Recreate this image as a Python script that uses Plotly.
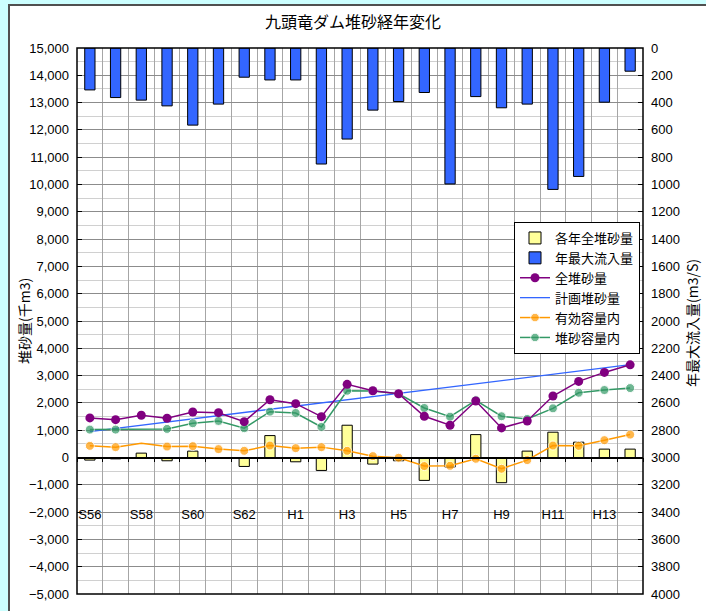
import plotly.graph_objects as go

# ---------------- data ----------------
years = ["S56", "S57", "S58", "S59", "S60", "S61", "S62", "S63",
         "H1", "H2", "H3", "H4", "H5", "H6", "H7", "H8", "H9", "H10",
         "H11", "H12", "H13", "H14"]
year_labels = ["S56", "", "S58", "", "S60", "", "S62", "",
               "H1", "", "H3", "", "H5", "", "H7", "", "H9", "",
               "H11", "", "H13", ""]

# 各年全堆砂量 (千m3)
annual_sed = [-95, -50, 160, -120, 234, -30, -328, 803,
              -157, -474, 1182, -241, -120, -839, -350, 839, -923, 234,
              927, 562, 307, 307]
# 年最大流入量 (m3/S)
max_inflow = [307, 363, 382, 424, 565, 411, 214, 234,
              234, 850, 667, 455, 392, 326, 996, 356, 438, 411,
              1036, 941, 397, 170]
# 全堆砂量 (千m3)
total_sed = [1449, 1387, 1547, 1438, 1668, 1642, 1314, 2117,
             1971, 1496, 2679, 2445, 2336, 1511, 1182, 2069, 1084, 1339,
             2252, 2788, 3117, 3394]
# 計画堆砂量 (千m3) - straight plan line, end points
plan_years = ["S56", "H14"]
plan_sed = [950, 3400]
# 有効容量内 (千m3)
effective = [427, 380, 526, 401, 416, 307, 245, 438,
             343, 380, 245, 50, -10, -314, -303, -47, -412, -95,
             438, 427, 635, 839]
# 堆砂容量内 (千m3)
dead = [1022, 1022, 1035, 1047, 1255, 1339, 1073, 1679,
        1631, 1120, 2445, 2434, 2336, 1814, 1496, 2095, 1511, 1412,
        1801, 2372, 2471, 2544]

# ---------------- style ----------------
Y_MIN, Y_MAX = -5000, 15000
Y2_MIN, Y2_MAX = 0, 4000
NUM_FONT = "Liberation Sans, Arial, Noto Sans CJK JP, sans-serif"
JP_FONT = "Noto Sans CJK JP, Liberation Sans, sans-serif"
HIDDEN_MARKERS = {"S58"}
msize = [0 if y in HIDDEN_MARKERS else 9 for y in years]

fig = go.Figure()

fig.add_trace(go.Bar(
    x=years, y=max_inflow, name="年最大流入量", yaxis="y2",
    marker=dict(color="#3366FF", line=dict(color="black", width=1)),
    width=0.4, legendrank=2))

fig.add_trace(go.Bar(
    x=years, y=annual_sed, name="各年全堆砂量",
    marker=dict(color="#FFFF99", line=dict(color="black", width=1)),
    width=0.4, legendrank=1))

fig.add_trace(go.Scatter(
    x=plan_years, y=plan_sed, name="計画堆砂量", mode="lines",
    line=dict(color="#3366FF", width=1.3), legendrank=4))

fig.add_trace(go.Scatter(
    x=years, y=dead, name="堆砂容量内", mode="lines+markers",
    line=dict(color="#339966", width=1.5),
    marker=dict(color="#339966", size=msize), legendrank=6))

fig.add_trace(go.Scatter(
    x=years, y=effective, name="有効容量内", mode="lines+markers",
    line=dict(color="#FF9900", width=1.5),
    marker=dict(color="#FF9900", size=msize), legendrank=5))

fig.add_trace(go.Scatter(
    x=years, y=total_sed, name="全堆砂量", mode="lines+markers",
    line=dict(color="#800080", width=1.5),
    marker=dict(color="#800080", size=9), legendrank=3))

zero_pos = (0 - Y_MIN) / (Y_MAX - Y_MIN)

fig.update_layout(
    width=706, height=611,
    margin=dict(l=77, r=63, t=48, b=17, autoexpand=False),
    paper_bgcolor="#CCFFFF",
    plot_bgcolor="white",
    barmode="overlay",
    showlegend=True,
    title=dict(text="九頭竜ダム堆砂経年変化", x=0.5, xanchor="center",
               y=1 - 22 / 611, yanchor="middle", yref="container",
               font=dict(family=JP_FONT, size=16, color="black")),
    font=dict(family=NUM_FONT, size=13, color="black"),
    xaxis=dict(
        type="category", categoryorder="array", categoryarray=years,
        tickvals=years, ticktext=year_labels, tickangle=0,
        tickson="boundaries", ticks="outside", ticklen=4, tickcolor="black",
        showgrid=True, gridcolor="#A6A6A6", gridwidth=1,
        showline=True, linecolor="black", linewidth=1.5,
        anchor="free", position=zero_pos,
        ticklabelstandoff=45, automargin=False,
        tickfont=dict(family=NUM_FONT, size=13),
        range=[-0.5, len(years) - 0.5],
        zeroline=False,
    ),
    yaxis=dict(
        range=[Y_MIN, Y_MAX], dtick=1000, tickformat=",d",
        ticks="inside", ticklen=5, tickcolor="black",
        showgrid=True, gridcolor="#8C8C8C", gridwidth=1,
        minor=dict(dtick=500, showgrid=True, gridcolor="#D0D0D0", gridwidth=1),
        zeroline=False, showline=False, automargin=False,
        ticklabelstandoff=7,
        tickfont=dict(family=NUM_FONT, size=13),
    ),
    yaxis2=dict(
        range=[Y2_MAX, Y2_MIN], dtick=200, overlaying="y", side="right",
        ticks="inside", ticklen=5, tickcolor="black",
        showgrid=False, zeroline=False, showline=False, automargin=False,
        ticklabelstandoff=7,
        tickfont=dict(family=NUM_FONT, size=13),
    ),
    legend=dict(
        x=(514 - 77) / 566, y=(594 - 222) / 546, xanchor="left", yanchor="top",
        bgcolor="white", bordercolor="black", borderwidth=1,
        font=dict(family=JP_FONT, size=13), tracegroupgap=0,
        itemwidth=30, traceorder="normal",
    ),
    shapes=[
        dict(type="rect", xref="paper", yref="paper",
             x0=(9 - 77) / 566, x1=(730 - 77) / 566,
             y0=(594 - 640) / 546, y1=(594 - 5) / 546,
             fillcolor="white", line=dict(color="#505050", width=2),
             layer="below"),
        dict(type="rect", xref="paper", yref="paper", x0=0, x1=1, y0=0, y1=1,
             fillcolor="rgba(0,0,0,0)", line=dict(color="black", width=1.5),
             layer="above"),
    ],
    annotations=[
        dict(text="堆砂量(千m3)", xref="paper", yref="paper",
             x=(24 - 77) / 566, y=0.5, textangle=-90, showarrow=False,
             xanchor="center", yanchor="middle",
             font=dict(family=JP_FONT, size=14, color="black")),
        dict(text="年最大流入量(m3/S)", xref="paper", yref="paper",
             x=(692 - 77) / 566, y=(594 - 323) / 546, textangle=-90,
             showarrow=False, xanchor="center", yanchor="middle",
             font=dict(family=JP_FONT, size=14, color="black")),
    ],
)

fig.write_html("out.html")
